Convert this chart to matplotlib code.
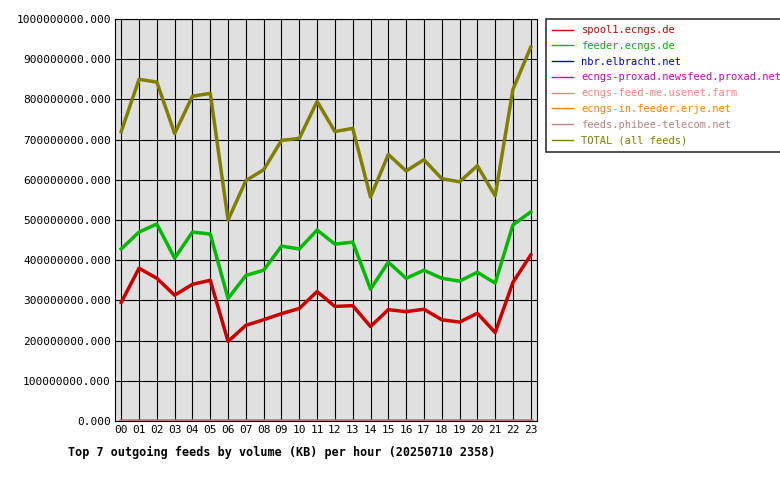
import matplotlib
matplotlib.use("Agg")
import matplotlib.pyplot as plt

hours = [f"{h:02d}" for h in range(24)]

# valeurs en millions de KB
spool1 = [295, 380, 355, 313, 340, 350, 198, 238, 252, 267, 280, 322,
          285, 287, 235, 277, 272, 278, 252, 246, 268, 220, 345, 413]
feeder = [428, 470, 490, 405, 470, 465, 305, 362, 375, 435, 428, 475,
          440, 445, 328, 395, 355, 375, 355, 348, 370, 343, 488, 520]
nbr = [0.3] * 24
proxad = [0.2] * 24
feedme = [0.5] * 24
erje = [0.4] * 24
phibee = [0.6] * 24
total = [720, 850, 843, 715, 808, 815, 500, 598, 625, 698, 703, 795,
         720, 728, 557, 663, 622, 650, 603, 595, 635, 560, 825, 930]

series = [
    ("spool1.ecngs.de", spool1, "#cc0000"),
    ("feeder.ecngs.de", feeder, "#00bb00"),
    ("nbr.elbracht.net", nbr, "#0000cc"),
    ("ecngs-proxad.newsfeed.proxad.net", proxad, "#cc00cc"),
    ("ecngs-feed-me.usenet.farm", feedme, "#ff8080"),
    ("ecngs-in.feeder.erje.net", erje, "#ff8000"),
    ("feeds.phibee-telecom.net", phibee, "#c08080"),
    ("TOTAL (all feeds)", total, "#808000"),
]

plt.rcParams["font.family"] = "DejaVu Sans Mono"
fig = plt.figure(figsize=(7.8, 4.8), dpi=100)
ax = fig.add_axes([115 / 780, 59 / 480, 422 / 780, 402 / 480])
ax.set_facecolor("#e0e0e0")

x = list(range(24))
for name, vals, col in series:
    ax.plot(x, [v * 1e6 for v in vals], color=col, lw=2.5, label=name)

ax.set_xlim(-0.35, 23.35)
ax.set_ylim(0, 1e9)
ax.set_xticks(x)
ax.set_xticklabels(hours, fontsize=8)
yt = [i * 1e8 for i in range(11)]
ax.set_yticks(yt)
ax.set_yticklabels([f"{v:.3f}" for v in yt], fontsize=8)
ax.grid(color="black", lw=0.8)
ax.set_axisbelow(True)
ax.tick_params(length=0, pad=3)
fig.text(68 / 780, 1 - 452 / 480,
         "Top 7 outgoing feeds by volume (KB) per hour (20250710 2358)",
         fontsize=8.5, fontweight="bold", ha="left", va="center")

leg = ax.legend(loc="upper left", bbox_to_anchor=((546 - 115) / 422, 1.0),
                fontsize=7.5, frameon=True, fancybox=False, edgecolor="black",
                handlelength=2, borderaxespad=0, labelspacing=0.55,
                borderpad=0.6)
leg.get_frame().set_linewidth(1.2)
for text, (_, _, col) in zip(leg.get_texts(), series):
    text.set_color(col)
for line in leg.get_lines():
    line.set_linewidth(1)

fig.savefig("out.png", dpi=100)
